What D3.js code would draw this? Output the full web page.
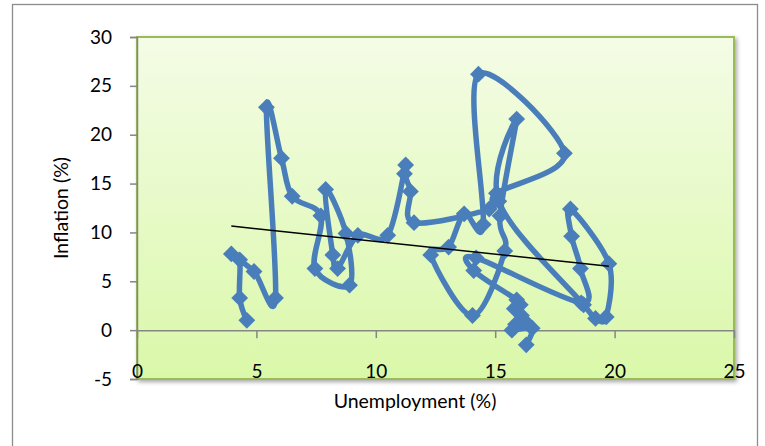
<!DOCTYPE html>
<html lang="en">
<head>
  <meta charset="UTF-8">
  <title>Inflation vs Unemployment</title>
  <script src="https://d3js.org/d3.v7.min.js"></script>
  <style>
    body { margin: 0; background: #fff; }
    svg text { font-family: Lato, "Open Sans", sans-serif; fill: #000; }
    .tick-label { font-size: 19px; }
    .axis-title { font-size: 19.5px; }
  </style>
</head>
<body>
  <div id="chart"></div>
  <script>
    // unemployment (%) and inflation (%) in series order
    const unemployment = [
      4.6, 4.3, 4.3, 3.95, 4.9, 5.8, 5.42, 6.05, 6.5, 7.7, 7.45, 8.9, 8.75, 7.9, 8.2, 8.4, 9.25, 10.5,
      11.25, 11.2, 11.45, 11.6, 14.75, 15.05, 17.9, 14.3, 14.5, 13.7, 13.05, 12.3, 14.05, 15.4, 15.2,
      15.9, 15.15, 18.7, 19.2, 19.65, 19.76, 18.15, 18.2, 18.57, 18.6, 14.2, 14.1, 15.9, 16.05, 15.8,
      16.1, 16.25, 15.85, 15.7, 16.55, 16.3
    ];
    const inflation = [
      1.0, 3.3, 7.2, 7.8, 6.0, 3.3, 22.8, 17.6, 13.7, 11.7, 6.3, 4.6, 9.9, 14.4, 7.7, 6.3, 9.7, 9.7,
      16.9, 16.0, 14.2, 11.0, 12.4, 14.0, 18.1, 26.2, 10.8, 11.9, 8.5, 7.7, 1.5, 8.1, 11.7,
      21.6, 13.2, 2.6, 1.2, 1.35, 6.8, 12.4, 9.6, 6.3, 2.8, 7.4, 6.1, 3.1, 2.6, 2.2,
      1.5, 0.9, 0.6, 0.0, 0.2, -1.5
    ];
    const xTicks = [0, 5, 10, 15, 20, 25];
    const yTicks = [-5, 0, 5, 10, 15, 20, 25, 30];

    const points = unemployment.map((u, i) => ({ x: u, y: inflation[i] }));

    const width = 765;
    const height = 446;
    const plot = { left: 137, top: 37, right: 734, bottom: 379 };
    const blue = "#4a7ebb";

    const svg = d3.select("#chart")
      .append("svg")
      .attr("width", width)
      .attr("height", height);

    const x = d3.scaleLinear().domain([0, 25]).range([plot.left, plot.right]);
    const y = d3.scaleLinear().domain([-5, 30]).range([plot.bottom, plot.top]);

    const defs = svg.append("defs");
    const grad = defs.append("linearGradient")
      .attr("id", "plotFill")
      .attr("x1", 0).attr("y1", 0).attr("x2", 0).attr("y2", 1);
    grad.append("stop").attr("offset", "0%").attr("stop-color", "#f4fce6");
    grad.append("stop").attr("offset", "100%").attr("stop-color", "#daf8a9");

    const shadow = defs.append("filter").attr("id", "shadow")
      .attr("x", "-5%").attr("y", "-5%").attr("width", "110%").attr("height", "115%");
    shadow.append("feDropShadow")
      .attr("dx", 2).attr("dy", 2).attr("stdDeviation", 2)
      .attr("flood-color", "#000").attr("flood-opacity", 0.35);

    // chart area border
    svg.append("rect")
      .attr("x", 12.5).attr("y", 4.5)
      .attr("width", 745).attr("height", 470)
      .attr("fill", "#fff")
      .attr("stroke", "#8c8c8c")
      .attr("stroke-width", 1.3);

    // plot area
    svg.append("rect")
      .attr("x", plot.left).attr("y", plot.top)
      .attr("width", plot.right - plot.left).attr("height", plot.bottom - plot.top)
      .attr("fill", "url(#plotFill)")
      .attr("stroke", "#9bbb59")
      .attr("stroke-width", 2)
      .attr("filter", "url(#shadow)");

    // y axis
    const yAxis = d3.axisLeft(y).tickValues(yTicks).tickSize(7).tickPadding(18)
      .tickFormat(d => String(d));
    const gy = svg.append("g")
      .attr("transform", `translate(${plot.left},0)`)
      .call(yAxis);
    gy.select(".domain").attr("stroke", "#868686").attr("stroke-width", 1.5);
    gy.selectAll(".tick line").attr("stroke", "#868686").attr("stroke-width", 1.5);
    gy.selectAll(".tick text").attr("class", "tick-label").attr("font-size", null).attr("font-family", null);

    // x axis crossing at y = 0
    const xAxis = d3.axisBottom(x).tickValues(xTicks).tickSize(8).tickPadding(26).tickSizeOuter(0)
      .tickFormat(d => String(d));
    const gx = svg.append("g")
      .attr("transform", `translate(0,${y(0)})`)
      .call(xAxis);
    gx.select(".domain").attr("stroke", "#868686").attr("stroke-width", 1.5);
    gx.selectAll(".tick line").attr("stroke", "#868686").attr("stroke-width", 1.5);
    gx.selectAll(".tick text").attr("class", "tick-label").attr("font-size", null).attr("font-family", null);

    // series
    const line = d3.line()
      .x(d => x(d.x))
      .y(d => y(d.y))
      .curve(d3.curveCardinal.tension(0));

    svg.append("path")
      .datum(points)
      .attr("d", line)
      .attr("fill", "none")
      .attr("stroke", blue)
      .attr("stroke-width", 5.5)
      .attr("stroke-linejoin", "round");

    const diamond = d3.symbol().type(d3.symbolDiamond2).size(180);
    svg.selectAll(".marker")
      .data(points)
      .enter()
      .append("path")
      .attr("class", "marker")
      .attr("transform", d => `translate(${x(d.x)},${y(d.y)})`)
      .attr("d", diamond)
      .attr("fill", blue);

    // linear trendline (least squares)
    const mx = d3.mean(points, d => d.x);
    const my = d3.mean(points, d => d.y);
    const slope = d3.sum(points, d => (d.x - mx) * (d.y - my)) / d3.sum(points, d => (d.x - mx) ** 2);
    const intercept = my - slope * mx;
    const [x0, x1] = d3.extent(points, d => d.x);
    svg.append("line")
      .attr("x1", x(x0)).attr("y1", y(intercept + slope * x0))
      .attr("x2", x(x1)).attr("y2", y(intercept + slope * x1))
      .attr("stroke", "#000")
      .attr("stroke-width", 1.5);

    // axis titles
    svg.append("text")
      .attr("class", "axis-title")
      .attr("x", 415)
      .attr("y", 408)
      .attr("text-anchor", "middle")
      .text("Unemployment (%)");

    svg.append("text")
      .attr("class", "axis-title")
      .attr("transform", `translate(68,${(plot.top + plot.bottom) / 2}) rotate(-90)`)
      .attr("text-anchor", "middle")
      .text("Inflation (%)");
  </script>
</body>
</html>
